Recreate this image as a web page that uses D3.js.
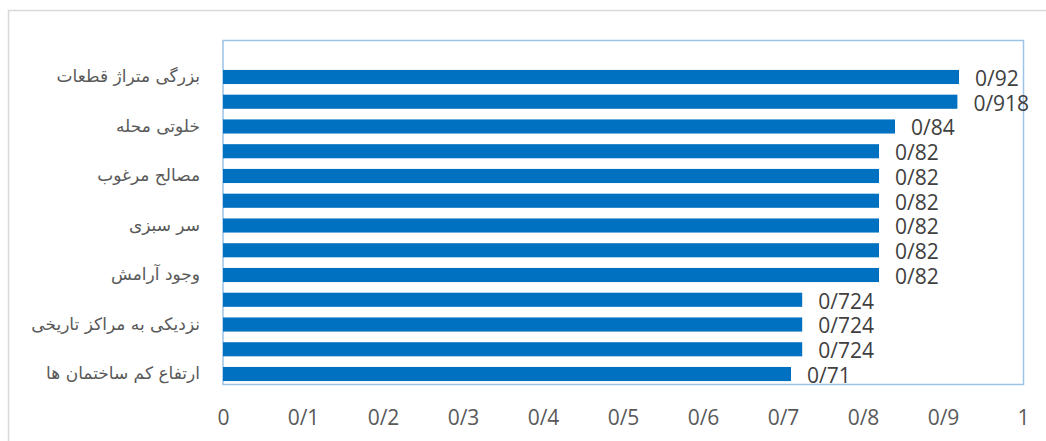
<!DOCTYPE html>
<html><head><meta charset="utf-8">
<script src="https://cdn.jsdelivr.net/npm/d3@7"></script>
<style>body{margin:0;background:#fff}svg{display:block}</style>
</head><body>
<svg id="c" width="1046" height="441"></svg>
<script>
const categories = ["بزرگی متراژ قطعات", "", "خلوتی محله", "", "مصالح مرغوب", "", "سر سبزی", "", "وجود آرامش", "", "نزدیکی به مراکز تاریخی", "", "ارتفاع کم ساختمان ها"];
const values = [0.92, 0.918, 0.84, 0.82, 0.82, 0.82, 0.82, 0.82, 0.82, 0.724, 0.724, 0.724, 0.71];
const xTicks = [0, 0.1, 0.2, 0.3, 0.4, 0.5, 0.6, 0.7, 0.8, 0.9, 1];

const svg = d3.select("#c");
const fmt = v => String(+v.toFixed(3)).replace(".", "/");

// outer chart border
svg.append("rect").attr("x", 8.5).attr("y", 10.5).attr("width", 1100).attr("height", 500)
  .attr("fill", "none").attr("stroke", "#d9d9d9").attr("stroke-width", 1.5);

const x = d3.scaleLinear().domain([0, 1]).range([223, 1023]);
const y = d3.scaleBand().domain(d3.range(categories.length)).range([64.6, 386.4])
  .paddingInner(0.43).paddingOuter(0.215);

// plot area border
svg.append("rect").attr("x", 223).attr("y", 40.5).attr("width", 800.5).attr("height", 344)
  .attr("fill", "none").attr("stroke", "#9dc3e6").attr("stroke-width", 1.5);

svg.selectAll("rect.bar").data(values).enter().append("rect").attr("class", "bar")
  .attr("x", x(0)).attr("y", (d, i) => y(i))
  .attr("width", d => x(d) - x(0)).attr("height", y.bandwidth())
  .attr("fill", "#0070c0");

svg.selectAll("text.lbl").data(values).enter().append("text").attr("class", "lbl")
  .attr("x", d => x(d) + 16).attr("y", (d, i) => y(i) + y.bandwidth() / 2 + 1.5)
  .attr("dy", "0.35em")
  .attr("font-family", "Open Sans, sans-serif").attr("font-size", 21)
  .attr("fill", "#404040").text(d => fmt(d));

const yAxis = svg.append("g").attr("transform", "translate(200,0)")
  .call(d3.axisLeft(y).tickSize(0).tickPadding(0).tickFormat(i => categories[i]));
yAxis.select(".domain").remove();
yAxis.selectAll("text").attr("font-family", "DejaVu Sans, sans-serif").attr("font-size", 17)
  .attr("fill", "#595959").attr("direction", "rtl").attr("text-anchor", "start").attr("dy", "0.3em");

const xAxis = svg.append("g").attr("transform", "translate(0,410)")
  .call(d3.axisBottom(x).tickValues(xTicks).tickSize(0).tickPadding(0).tickFormat(fmt));
xAxis.select(".domain").remove();
xAxis.selectAll("text").attr("font-family", "Open Sans, sans-serif").attr("font-size", 21)
  .attr("fill", "#595959");
</script>
</body></html>
